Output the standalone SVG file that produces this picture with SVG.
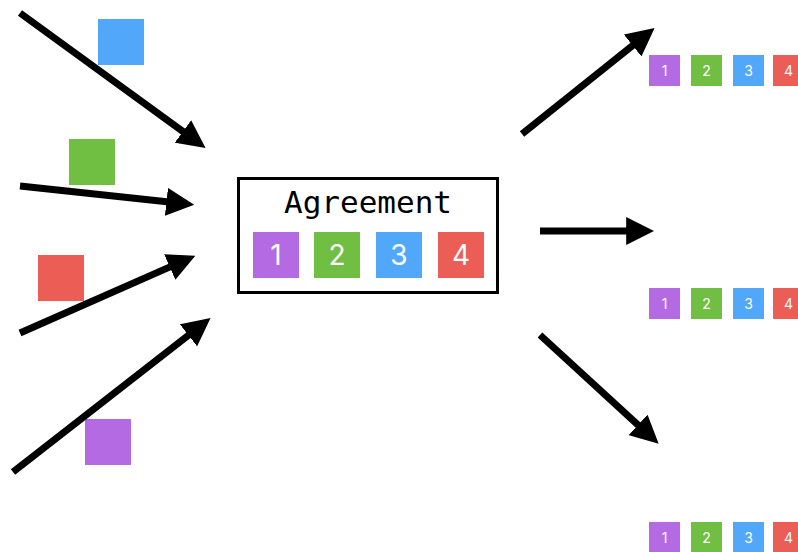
<svg xmlns="http://www.w3.org/2000/svg" width="798" height="552" viewBox="0 0 798 552">
<style>
.p{fill:#b36ae2}.g{fill:#70be42}.b{fill:#51a8fa}.r{fill:#ec5d56}
.big{font-family:"Inter","Open Sans",sans-serif;font-size:28px;fill:#fff;text-anchor:middle}
.sm{font-family:"Inter","Open Sans",sans-serif;font-size:14px;fill:#fff;text-anchor:middle}
.ar{stroke:#000;stroke-width:7;fill:none;marker-end:url(#ah)}
</style>
<defs>
<marker id="ah" viewBox="0 0 10 10" refX="1" refY="5" markerUnits="userSpaceOnUse" markerWidth="28" markerHeight="28" orient="auto">
<path d="M0,0 L10,5 L0,10 z" fill="#000"/>
</marker>
</defs>
<rect width="798" height="552" fill="#fff"/>
<g id="inputs">
<rect class="b" x="98" y="19" width="46" height="46"/>
<rect class="g" x="69" y="139" width="46" height="46"/>
<rect class="r" x="38" y="255" width="46" height="46"/>
<rect class="p" x="85" y="419" width="46" height="46"/>
</g>
<g id="connectors">
<path class="ar" d="M20,13 L185.2,133.1"/>
<path class="ar" d="M20,186 L169.2,202.1"/>
<path class="ar" d="M20,333 L172.3,265.9"/>
<path class="ar" d="M13,472 L190.7,333.6"/>
<path class="ar" d="M522,134 L634.9,43.8"/>
<path class="ar" d="M540,231 L629,231"/>
<path class="ar" d="M540,335 L640.1,426.8"/>
</g>
<g id="agreement">
<rect x="238.5" y="178.5" width="259" height="114" fill="#fff" stroke="#000" stroke-width="3"/>
<text x="368" y="213" font-family="'DejaVu Sans Mono','Liberation Mono',monospace" font-size="31" text-anchor="middle" fill="#000">Agreement</text>
<rect class="p" x="253" y="232" width="46" height="46"/>
<rect class="g" x="314" y="232" width="46" height="46"/>
<rect class="b" x="376" y="232" width="46" height="46"/>
<rect class="r" x="438" y="232" width="46" height="46"/>
<text class="big" x="276" y="265">1</text>
<text class="big" x="337" y="265">2</text>
<text class="big" x="399" y="265">3</text>
<text class="big" x="461" y="265">4</text>
</g>
<g id="out1">
<rect class="p" x="649" y="55" width="31" height="31"/>
<rect class="g" x="691" y="55" width="31" height="31"/>
<rect class="b" x="733" y="55" width="31" height="31"/>
<rect class="r" x="773" y="55" width="31" height="31"/>
<text class="sm" x="664.5" y="75.5">1</text>
<text class="sm" x="706.5" y="75.5">2</text>
<text class="sm" x="748.5" y="75.5">3</text>
<text class="sm" x="788.5" y="75.5">4</text>
</g>
<g id="out2">
<rect class="p" x="649" y="288" width="31" height="31"/>
<rect class="g" x="691" y="288" width="31" height="31"/>
<rect class="b" x="733" y="288" width="31" height="31"/>
<rect class="r" x="773" y="288" width="31" height="31"/>
<text class="sm" x="664.5" y="308.5">1</text>
<text class="sm" x="706.5" y="308.5">2</text>
<text class="sm" x="748.5" y="308.5">3</text>
<text class="sm" x="788.5" y="308.5">4</text>
</g>
<g id="out3">
<rect class="p" x="649" y="522" width="31" height="31"/>
<rect class="g" x="691" y="522" width="31" height="31"/>
<rect class="b" x="733" y="522" width="31" height="31"/>
<rect class="r" x="773" y="522" width="31" height="31"/>
<text class="sm" x="664.5" y="542.5">1</text>
<text class="sm" x="706.5" y="542.5">2</text>
<text class="sm" x="748.5" y="542.5">3</text>
<text class="sm" x="788.5" y="542.5">4</text>
</g>
</svg>
